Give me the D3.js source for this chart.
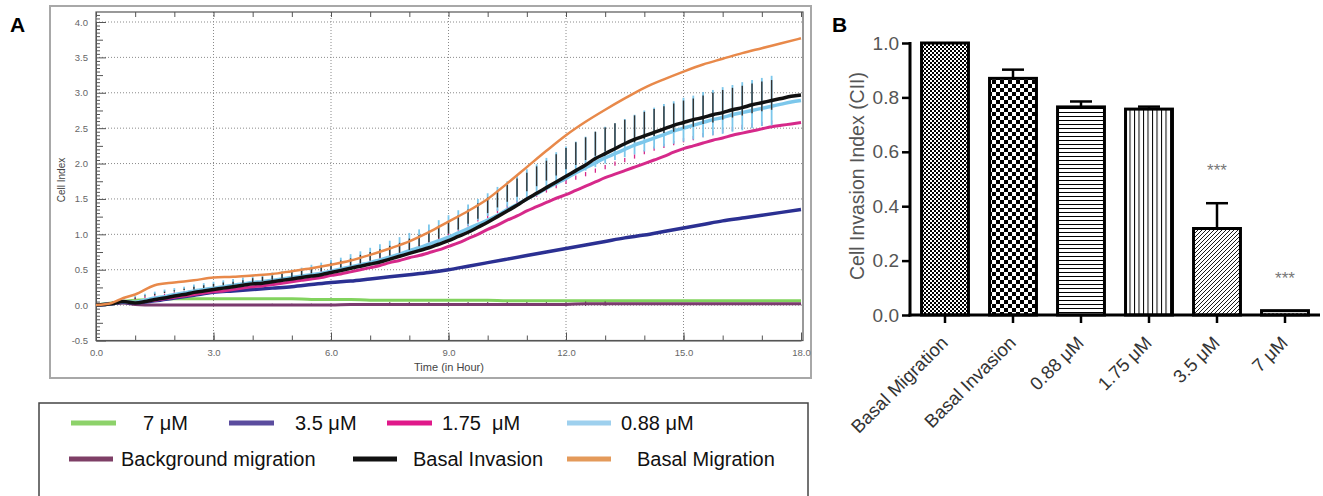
<!DOCTYPE html>
<html><head><meta charset="utf-8">
<script src="https://cdn.jsdelivr.net/npm/d3@7"></script>
<style>
body{margin:0;background:#fff;}
svg{display:block;font-family:Arial,"Liberation Sans",sans-serif;}
text{white-space:pre;}
</style></head><body>
<svg id="c" width="1323" height="496"></svg>
<script>
// ---------- Panel A data (Cell Index vs time) ----------
const hours = [0,0.4,0.7,1,1.5,2,2.5,3,3.5,4,4.5,5,5.5,6,6.5,7,7.5,8,8.5,9,9.5,10,10.5,11,11.5,12,12.5,13,13.5,14,14.5,15,15.5,16,16.5,17,17.5,18];
const basalMigration = [0,0.03,0.1,0.15,0.28,0.32,0.35,0.39,0.40,0.42,0.44,0.48,0.52,0.57,0.63,0.71,0.8,0.9,1.03,1.18,1.33,1.5,1.72,1.95,2.18,2.4,2.59,2.76,2.92,3.07,3.19,3.3,3.4,3.48,3.56,3.63,3.7,3.77];
const um35 = [0,0.02,0.04,0.03,0.06,0.1,0.14,0.18,0.2,0.22,0.24,0.26,0.29,0.32,0.34,0.37,0.4,0.43,0.46,0.5,0.55,0.6,0.65,0.7,0.75,0.8,0.85,0.9,0.95,0.99,1.04,1.09,1.14,1.19,1.23,1.27,1.31,1.35];
const um7 = [0,0.03,0.05,0.07,0.08,0.09,0.09,0.09,0.09,0.09,0.09,0.09,0.08,0.08,0.08,0.07,0.07,0.07,0.07,0.07,0.07,0.07,0.06,0.06,0.06,0.06,0.06,0.06,0.06,0.06,0.06,0.06,0.06,0.06,0.06,0.06,0.06,0.06];
const bgMigration = [0,0.02,0.03,0.01,0,0,0,0,0,0,0,0,0,0,0.01,0.01,0.01,0.01,0.01,0.01,0.01,0.01,0.01,0.01,0.01,0.01,0.02,0.02,0.02,0.02,0.02,0.02,0.02,0.02,0.02,0.02,0.02,0.02];
const bgMigrationErr = [0,0,0,0,0,0,0,0,0,0,0.01,0.01,0.01,0.01,0.01,0.02,0.02,0.02,0.02,0.02,0.02,0.02,0.02,0.02,0.02,0.02,0.03,0.03,0.03,0.03,0.03,0.03,0.03,0.03,0.03,0.03,0.03,0.03];

// quarter-hour readings for the error-barred series
const hoursFine = [0,0.4,0.7,
 1,1.25,1.5,1.75,2,2.25,2.5,2.75,3,3.25,3.5,3.75,4,4.25,4.5,4.75,5,5.25,5.5,5.75,6,6.25,6.5,6.75,7,7.25,7.5,7.75,8,8.25,8.5,8.75,
 9,9.25,9.5,9.75,10,10.25,10.5,10.75,11,11.25,11.5,11.75,12,12.25,12.5,12.75,13,13.25,13.5,13.75,14,14.25,14.5,14.75,15,15.25,15.5,15.75,16,16.25,16.5,16.75,17,17.25,17.5,17.75,18];
const basalInvasion = [0,0.02,0.05,
 0.03,0.05,0.08,0.1,0.13,0.15,0.18,0.2,0.22,0.24,0.26,0.28,0.3,0.31,0.33,0.35,0.37,0.39,0.41,0.43,0.46,0.49,0.52,0.55,0.58,0.61,0.65,0.69,0.73,0.77,0.81,0.86,
 0.91,0.97,1.03,1.1,1.17,1.25,1.33,1.41,1.5,1.58,1.66,1.74,1.82,1.9,1.98,2.07,2.14,2.21,2.28,2.34,2.39,2.44,2.49,2.54,2.58,2.62,2.65,2.69,2.72,2.76,2.79,2.83,2.86,2.89,2.92,2.95,2.97];
const basalInvasionErr = [0,0,0,
 0.01,0.01,0.01,0.01,0.01,0.01,0.02,0.02,0.02,0.02,0.02,0.02,0.03,0.03,0.03,0.03,0.04,0.04,0.04,0.04,0.05,0.05,0.05,0.06,0.06,0.06,0.07,0.07,0.08,0.08,0.08,0.09,
 0.09,0.1,0.1,0.11,0.11,0.12,0.12,0.13,0.13,0.14,0.14,0.15,0.15,0.16,0.16,0.17,0.17,0.18,0.18,0.19,0.19,0.19,0.19,0.2,0.2,0.2,0.2,0.21,0.21,0.21,0.21,0.21,0.21,0.21,0.21,0.21,0.21];
const um088 = [0,0.02,0.05,
 0.04,0.07,0.1,0.12,0.15,0.17,0.2,0.22,0.24,0.26,0.28,0.3,0.32,0.33,0.35,0.37,0.39,0.41,0.43,0.45,0.48,0.51,0.54,0.57,0.6,0.64,0.68,0.72,0.77,0.81,0.86,0.91,
 0.96,1.02,1.08,1.14,1.2,1.27,1.35,1.42,1.5,1.57,1.65,1.72,1.79,1.87,1.94,2.01,2.08,2.14,2.2,2.26,2.31,2.36,2.41,2.46,2.5,2.54,2.58,2.62,2.65,2.69,2.72,2.75,2.78,2.81,2.84,2.87,2.89];
const um088Err = [0,0,0,
 0.01,0.01,0.02,0.02,0.02,0.02,0.03,0.03,0.03,0.03,0.04,0.04,0.04,0.04,0.05,0.05,0.05,0.05,0.06,0.06,0.07,0.07,0.08,0.08,0.09,0.09,0.1,0.1,0.11,0.11,0.12,0.12,
 0.13,0.14,0.15,0.15,0.16,0.17,0.18,0.19,0.2,0.2,0.21,0.22,0.23,0.23,0.24,0.25,0.26,0.26,0.27,0.28,0.29,0.29,0.3,0.3,0.31,0.31,0.32,0.32,0.33,0.33,0.34,0.34,0.34,0.35,0.35,0.35,0.35];
const um175 = [0,0.02,0.05,
 0.03,0.05,0.07,0.09,0.11,0.13,0.15,0.17,0.19,0.2,0.22,0.24,0.26,0.27,0.29,0.31,0.33,0.35,0.37,0.39,0.42,0.44,0.47,0.5,0.53,0.56,0.6,0.63,0.67,0.7,0.74,0.78,
 0.83,0.88,0.94,1.0,1.07,1.13,1.2,1.26,1.33,1.39,1.45,1.51,1.56,1.62,1.68,1.74,1.8,1.85,1.9,1.95,2.0,2.05,2.1,2.16,2.21,2.25,2.29,2.33,2.36,2.4,2.43,2.46,2.49,2.52,2.54,2.56,2.58];
const um175Err = [0,0,0,
 0.01,0.01,0.01,0.01,0.01,0.01,0.01,0.01,0.01,0.01,0.01,0.01,0.01,0.01,0.01,0.01,0.02,0.02,0.02,0.02,0.02,0.02,0.02,0.02,0.02,0.02,0.02,0.02,0.02,0.02,0.02,0.02,
 0.02,0.02,0.02,0.02,0.03,0.03,0.03,0.03,0.03,0.03,0.03,0.03,0.03,0.03,0.03,0.03,0.03,0.03,0.03,0.03,0.03,0.03,0.03,0.03,0.03,0.03,0.03,0.03,0.03,0.03,0.03,0.03,0.03,0.03,0.03,0.03,0.03];
const xTickLabelsA = [0,3,6,9,12,15,18];
const yTickLabelsA = [-0.5,0,0.5,1,1.5,2,2.5,3,3.5,4];

// ---------- Panel B data ----------
const categoriesB = ["Basal Migration","Basal Invasion","0.88 \u03BCM","1.75 \u03BCM","3.5 \u03BCM","7 \u03BCM"];
const ciiValues = [1.0,0.87,0.765,0.757,0.318,0.016];
const ciiErrors = [0,0.032,0.02,0.009,0.093,0];
const significance = ["","","","","***","***"];
const yTickLabelsB = [0,0.2,0.4,0.6,0.8,1.0];

const svg = d3.select("#c");
const defs = svg.append("defs");

// ================= PANEL A =================
const xA = d3.scaleLinear().domain([0,18]).range([96,801]);
const yA = d3.scaleLinear().domain([-0.5,4]).range([340.5,22]);
const pTop = 12, pBottom = yA(-0.5), pLeft = xA(0), pRight = 803;

svg.append("rect").attr("x",50).attr("y",6).attr("width",761).attr("height",372)
  .attr("fill","none").attr("stroke","#a8a8a8").attr("stroke-width",2);

svg.append("text").attr("x",10).attr("y",32).attr("font-size",21).attr("font-weight","bold").text("A");

const gA = svg.append("g");
gA.selectAll(".gy").data(yTickLabelsA.filter(d=>d>-0.5)).join("line")
  .attr("x1",pLeft).attr("x2",pRight).attr("y1",d=>yA(d)).attr("y2",d=>yA(d))
  .attr("stroke","#8a8a8a").attr("stroke-width",1).attr("stroke-dasharray","1,2");
gA.selectAll(".gx").data(xTickLabelsA.filter(d=>d>0&&d<18)).join("line")
  .attr("y1",pTop).attr("y2",pBottom).attr("x1",d=>xA(d)).attr("x2",d=>xA(d))
  .attr("stroke","#8a8a8a").attr("stroke-width",1).attr("stroke-dasharray","1,2");

const fmt1 = d => d.toFixed(1);
function styleAxis(g){
  g.selectAll("path,line").attr("stroke","#555");
  g.selectAll("text").attr("fill","#666").attr("font-size",9.5).attr("font-family","Arial, Liberation Sans, sans-serif");
}
const minorY = d3.range(-0.5,4.14,0.05).filter(v=>Math.abs(v*2-Math.round(v*2))>1e-6);
gA.append("g").attr("transform",`translate(${pLeft},0)`)
  .call(d3.axisLeft(yA).tickValues(minorY).tickSize(-4).tickSizeOuter(0).tickFormat(""))
  .call(g=>g.select(".domain").remove())
  .call(g=>g.selectAll(".tick line").attr("x2",d=>Math.abs(d*4-Math.round(d*4))<1e-6?7:4))
  .call(styleAxis);
gA.append("g").attr("transform",`translate(${pLeft},0)`)
  .call(d3.axisLeft(yA).tickValues(yTickLabelsA).tickSize(-10).tickSizeOuter(0).tickPadding(8).tickFormat(fmt1))
  .call(styleAxis);
gA.append("g").attr("transform",`translate(0,${pBottom})`)
  .call(d3.axisBottom(xA).tickValues(d3.range(0,19,1)).tickSize(-5).tickSizeOuter(0).tickFormat(""))
  .call(g=>g.select(".domain").remove()).call(styleAxis);
gA.append("g").attr("transform",`translate(0,${pBottom})`)
  .call(d3.axisBottom(xA).tickValues(xTickLabelsA).tickSize(-8).tickSizeOuter(0).tickPadding(9).tickFormat(fmt1))
  .call(styleAxis);
gA.append("g").attr("transform",`translate(0,${pTop})`)
  .call(d3.axisTop(xA).tickValues(d3.range(0,19,1)).tickSize(-5).tickSizeOuter(0).tickFormat(""))
  .call(g=>g.select(".domain").remove()).call(styleAxis);
gA.append("rect").attr("x",pLeft).attr("y",pTop).attr("width",pRight-pLeft).attr("height",pBottom-pTop)
  .attr("fill","none").attr("stroke","#555").attr("stroke-width",1.2);

gA.append("text").attr("transform",`translate(61,180) rotate(-90)`).attr("text-anchor","middle")
  .attr("dominant-baseline","central").attr("font-size",10).attr("fill","#444").text("Cell Index");
gA.append("text").attr("x",449).attr("y",371).attr("text-anchor","middle")
  .attr("font-size",11).attr("fill","#444").text("Time (in Hour)");

function drawErr(ts, vals, errs, color, w){
  gA.append("g").selectAll("line").data(vals).join("line")
    .filter((d,i)=>errs[i]>0)
    .attr("x1",(d,i)=>xA(ts[i])).attr("x2",(d,i)=>xA(ts[i]))
    .attr("y1",(d,i)=>yA(d-errs[i])).attr("y2",(d,i)=>yA(d+errs[i]))
    .attr("stroke",color).attr("stroke-width",w);
}
function drawLine(ts, vals,color,w){
  const line = d3.line().x((d,i)=>xA(ts[i])).y(d=>yA(d)).curve(d3.curveMonotoneX);
  gA.append("path").datum(vals).attr("d",line).attr("fill","none")
    .attr("stroke",color).attr("stroke-width",w).attr("stroke-linejoin","round");
}
drawLine(hours, um7,"#82d35e",3);
drawErr(hours, bgMigration,bgMigrationErr,"#4a2a40",1.2);
drawLine(hours, bgMigration,"#7b3b6e",3);
drawLine(hours, um35,"#2b3092",3.5);
drawErr(hoursFine, um175,um175Err,"#d6298a",1.3);
drawLine(hoursFine, um175,"#d6298a",3);
drawErr(hoursFine, um088,um088Err,"#7cc7eb",1.8);
drawLine(hoursFine, um088,"#7cc7eb",3.5);
drawErr(hoursFine, basalInvasion,basalInvasionErr,"#333",1.4);
drawLine(hoursFine, basalInvasion,"#111",3.5);
drawLine(hours, basalMigration,"#e8894a",2.5);

// legend
svg.append("rect").attr("x",39).attr("y",403).attr("width",769).attr("height",110)
  .attr("fill","none").attr("stroke","#444").attr("stroke-width",1.5);
const legendItems = [
  {label:"7 \u03BCM", color:"#8dd26a"},
  {label:"3.5 \u03BCM", color:"#5b4c9e"},
  {label:"1.75  \u03BCM", color:"#e0198a"},
  {label:"0.88 \u03BCM", color:"#9ed0ee"},
  {label:"Background migration", color:"#7e3f66"},
  {label:"Basal Invasion", color:"#111"},
  {label:"Basal Migration", color:"#e49a5a"}
];
const legendLayout = [
  {x1:71,x2:116,tx:143,cy:423},{x1:229,x2:274,tx:295,cy:423},{x1:387,x2:432,tx:442,cy:423},{x1:567,x2:611,tx:621,cy:423},
  {x1:69,x2:113,tx:121,cy:459},{x1:353,x2:397,tx:413,cy:459},{x1:567,x2:611,tx:637,cy:459}
];
const lg = svg.append("g").selectAll("g").data(legendItems).join("g");
lg.append("line").attr("x1",(d,i)=>legendLayout[i].x1).attr("x2",(d,i)=>legendLayout[i].x2)
  .attr("y1",(d,i)=>legendLayout[i].cy).attr("y2",(d,i)=>legendLayout[i].cy)
  .attr("stroke",d=>d.color).attr("stroke-width",5);
lg.append("text").attr("x",(d,i)=>legendLayout[i].tx).attr("y",(d,i)=>legendLayout[i].cy+7)
  .attr("font-size",20).attr("fill","#111").text(d=>d.label);

// ================= PANEL B =================
svg.append("text").attr("x",832).attr("y",32).attr("font-size",21).attr("font-weight","bold").text("B");

function pat(id,w,h,build){
  const p = defs.append("pattern").attr("id",id).attr("patternUnits","userSpaceOnUse").attr("width",w).attr("height",h);
  p.append("rect").attr("width",w).attr("height",h).attr("fill","#fff");
  build(p);
}
pat("p0",4,4,p=>{p.append("rect").attr("width",2).attr("height",2).attr("fill","#000");
  p.append("rect").attr("x",2).attr("y",2).attr("width",2).attr("height",2).attr("fill","#000");});
pat("p1",8,8,p=>{p.append("rect").attr("width",4).attr("height",4).attr("fill","#000");
  p.append("rect").attr("x",4).attr("y",4).attr("width",4).attr("height",4).attr("fill","#000");});
pat("p2",4,4,p=>{p.append("rect").attr("y",0).attr("width",4).attr("height",1).attr("fill","#000");});
pat("p3",4.5,4,p=>{p.append("rect").attr("x",0).attr("width",1).attr("height",4).attr("fill","#000");});
pat("p4",4,4,p=>{p.append("path").attr("d","M-1,1 L1,-1 M0,4 L4,0 M3,5 L5,3").attr("stroke","#000").attr("stroke-width",0.9);});
pat("p5",4,4,p=>{p.append("rect").attr("x",0).attr("y",1.5).attr("width",2).attr("height",1).attr("fill","#000");});

const yB = d3.scaleLinear().domain([0,1]).range([315,43]);
const xB = d3.scaleBand().domain(categoriesB).range([911,1319]).paddingInner(0.31).paddingOuter(0.155);
const gB = svg.append("g");

gB.selectAll(".bar").data(ciiValues).join("rect")
  .attr("x",(d,i)=>xB(categoriesB[i])).attr("width",xB.bandwidth())
  .attr("y",d=>yB(d)).attr("height",d=>yB(0)-yB(d))
  .attr("fill",(d,i)=>`url(#p${i})`).attr("stroke","#000").attr("stroke-width",3);

const errIdx = d3.range(ciiValues.length).filter(i=>ciiErrors[i]>0);
const eg = gB.append("g").selectAll("g").data(errIdx).join("g");
eg.append("line")
  .attr("x1",i=>xB(categoriesB[i])+xB.bandwidth()/2).attr("x2",i=>xB(categoriesB[i])+xB.bandwidth()/2)
  .attr("y1",i=>yB(ciiValues[i])).attr("y2",i=>yB(ciiValues[i]+ciiErrors[i]))
  .attr("stroke","#000").attr("stroke-width",2.5);
eg.append("line")
  .attr("x1",i=>xB(categoriesB[i])+xB.bandwidth()/2-11).attr("x2",i=>xB(categoriesB[i])+xB.bandwidth()/2+11)
  .attr("y1",i=>yB(ciiValues[i]+ciiErrors[i])).attr("y2",i=>yB(ciiValues[i]+ciiErrors[i]))
  .attr("stroke","#000").attr("stroke-width",2.5);

gB.selectAll(".sig").data(significance).join("text")
  .attr("x",(d,i)=>xB(categoriesB[i])+xB.bandwidth()/2)
  .attr("y",(d,i)=>yB(ciiValues[i]+ciiErrors[i])-27)
  .attr("text-anchor","middle").attr("font-size",17).attr("fill","#777").text(d=>d);

gB.append("g").attr("transform","translate(910,0)")
  .call(d3.axisLeft(yB).tickValues(yTickLabelsB).tickSize(8).tickSizeOuter(0).tickPadding(3).tickFormat(fmt1))
  .call(g=>g.select(".domain").remove())
  .call(g=>g.selectAll(".tick line").attr("stroke","#000").attr("stroke-width",2.5))
  .call(g=>g.selectAll("text").attr("font-size",19).attr("fill","#555").attr("font-family","Arial, Liberation Sans, sans-serif"));
gB.append("line").attr("x1",910).attr("x2",910).attr("y1",yB(1)-1).attr("y2",yB(0)+1.5).attr("stroke","#000").attr("stroke-width",3);
gB.append("g").attr("transform","translate(0,315)")
  .call(d3.axisBottom(xB).tickSize(8).tickSizeOuter(0).tickFormat(""))
  .call(g=>g.select(".domain").remove())
  .call(g=>g.selectAll(".tick line").attr("stroke","#000").attr("stroke-width",2.5));
gB.append("line").attr("x1",908.5).attr("x2",1320).attr("y1",315).attr("y2",315).attr("stroke","#000").attr("stroke-width",3);

gB.selectAll(".xl").data(categoriesB).join("text")
  .attr("transform",d=>`translate(${xB(d)+xB.bandwidth()/2+4},344) rotate(-45)`)
  .attr("text-anchor","end").attr("font-size",18.5).attr("fill","#333").text(d=>d);

gB.append("text").attr("transform","translate(857,176) rotate(-90)").attr("text-anchor","middle")
  .attr("dominant-baseline","central").attr("font-size",19.5).attr("fill","#555").text("Cell Invasion Index (CII)");
</script>
</body></html>
